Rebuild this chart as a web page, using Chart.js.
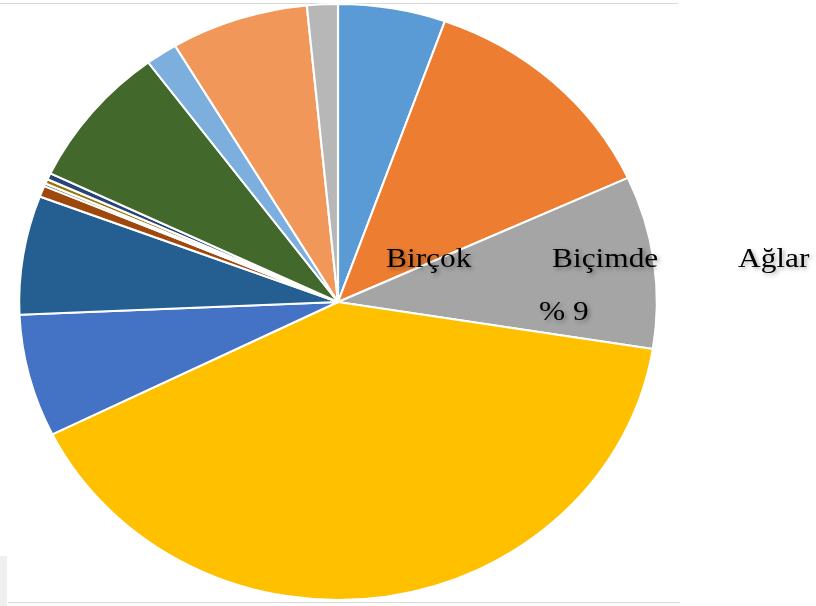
<!DOCTYPE html>
<html>
<head>
<meta charset="utf-8">
<script src="https://cdn.jsdelivr.net/npm/chart.js@4"></script>
<style>
  html, body { margin: 0; padding: 0; background: #fff; }
  #wrap { position: relative; width: 816px; height: 606px; }
</style>
</head>
<body>
<div id="wrap"><canvas id="pieChart"></canvas></div>
<script>
// Slice data (percent), clockwise from 12 o'clock
const categories = [
    'Dilim 1', 'Dilim 2', 'Birçok Biçimde Ağlar', 'Dilim 4', 'Dilim 5', 'Dilim 6',
    'Dilim 7', 'Dilim 8', 'Dilim 9', 'Dilim 10', 'Dilim 11', 'Dilim 12',
    'Dilim 13', 'Dilim 14', 'Dilim 15'
];
const shares = [5.44, 12.72, 9.36, 40.14, 6.64, 0, 6.44, 0.6, 0.15, 0.25, 0.35, 7.75, 1.61, 6.97, 1.56];
const sliceColors = [
    '#5B9BD5', '#ED7D31', '#A5A5A5', '#FFC000', '#4472C4', '#70AD47',
    '#255E91', '#9E480E', '#636363', '#997300', '#264478', '#43682B',
    '#7CAFDD', '#F1975A', '#B7B7B7'
];
// the one visible data label, split into the words as laid out
const labelWords = ['Birçok', 'Biçimde', 'Ağlar'];
const labelValue = '% ' + Math.round(shares[2]);

const stretchX = 1.07; // pie is drawn slightly wider than tall

// Frame lines + ellipse stretch
const framePlugin = {
    id: 'frame',
    beforeDatasetsDraw(chart) {
        const ctx = chart.ctx;
        ctx.save();
        ctx.strokeStyle = '#d9d9d9';
        ctx.lineWidth = 1;
        ctx.beginPath();
        ctx.moveTo(0, 3.5); ctx.lineTo(678, 3.5);
        ctx.moveTo(8, 602.5); ctx.lineTo(680, 602.5);
        ctx.stroke();
        ctx.fillStyle = '#efefef';
        ctx.fillRect(0, 556, 7, 50);
        ctx.restore();

        const arc = chart.getDatasetMeta(0).data[0];
        ctx.save();
        ctx.translate(arc.x, arc.y);
        ctx.scale(stretchX, 1);
        ctx.translate(-arc.x, -arc.y);
    },
    afterDatasetsDraw(chart) {
        chart.ctx.restore();
    }
};

// Data label with soft shadow, text is stretched like the pie
const labelPlugin = {
    id: 'sliceLabel',
    afterDraw(chart) {
        const ctx = chart.ctx;
        const arc = chart.getDatasetMeta(0).data[0];
        const cx = arc.x, cy = arc.y;
        ctx.save();
        ctx.font = '28px "Liberation Serif", "Times New Roman", serif';
        ctx.fillStyle = '#000';
        ctx.textBaseline = 'alphabetic';
        ctx.shadowColor = 'rgba(0,0,0,0.35)';
        ctx.shadowOffsetX = 2;
        ctx.shadowOffsetY = 2;
        ctx.shadowBlur = 4;
        const xs = [48, 214, 400];
        labelWords.forEach((w, i) => {
            ctx.save();
            ctx.translate(cx + xs[i], cy - 35);
            ctx.scale(1.12, 1);
            ctx.fillText(w, 0, 0);
            ctx.restore();
        });
        ctx.translate(cx + 201, cy + 18);
        ctx.scale(1.12, 1);
        ctx.fillText(labelValue, 0, 0);
        ctx.restore();
    }
};

new Chart(document.getElementById('pieChart'), {
    type: 'pie',
    data: {
        labels: categories,
        datasets: [{
            data: shares,
            backgroundColor: sliceColors,
            borderColor: '#ffffff',
            borderWidth: 2,
            hoverOffset: 0,
            offset: 0
        }]
    },
    options: {
        responsive: true,
        maintainAspectRatio: false,
        animation: false,
        events: [],
        layout: {
            padding: { top: 3, bottom: 5, left: 38, right: 178 }
        },
        plugins: {
            legend: { display: false },
            tooltip: { enabled: false }
        }
    },
    plugins: [framePlugin, labelPlugin]
});
</script>
</body>
</html>
